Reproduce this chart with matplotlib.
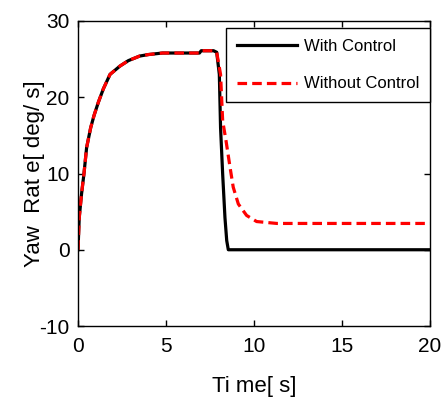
import matplotlib
matplotlib.use("Agg")
import matplotlib.pyplot as plt

plt.rcParams['font.family'] = ['Liberation Sans', 'DejaVu Sans']
plt.rcParams['axes.unicode_minus'] = False

# Shared rise / plateau
t_rise = [0, 0.02, 0.07, 0.2, 0.34, 0.49, 0.72, 0.91, 1.15, 1.44, 1.82, 2.39, 2.86, 3.5, 4.0, 4.8, 6.9, 7.0, 7.7, 7.88]
y_rise = [0, 1.2, 4.2, 7.3, 10.0, 13.4, 16.0, 17.6, 19.3, 21.1, 23.0, 24.1, 24.8, 25.4, 25.6, 25.8, 25.8, 26.1, 26.1, 25.9]

# With control: drop after ~8 s
t_with = t_rise + [8.03, 8.1, 8.22, 8.35, 8.45, 8.54, 20]
y_with = y_rise + [23.0, 16.0, 9.9, 4.2, 1.2, 0.0, 0.0]

# Without control: decay to ~3.5
t_without = t_rise + [8.1, 8.22, 8.41, 8.64, 8.82, 9.11, 9.58, 10.15, 11.3, 20]
y_without = y_rise + [23.0, 16.9, 14.3, 10.8, 8.2, 6.0, 4.5, 3.7, 3.45, 3.45]

fig = plt.figure(figsize=(4.43, 4.03), dpi=100)
ax = fig.add_axes([78/443, 1-326/403, (430-78)/443, (326-21)/403])

ax.plot(t_with, y_with, color='black', lw=2.3, label='With Control')
ax.plot(t_without, y_without, color='red', lw=2.3, ls=(0, (3, 1.6)), label='Without Control')

ax.set_xlim(0, 20)
ax.set_ylim(-10, 30)
ax.set_xticks([0, 5, 10, 15, 20])
ax.set_yticks([-10, 0, 10, 20, 30])
ax.tick_params(direction='in', labelsize=15, length=4, width=1, top=True, right=True)
ax.tick_params(axis='x', pad=8)
ax.tick_params(axis='y', pad=6)
for s in ax.spines.values():
    s.set_linewidth(1.0)

ax.set_xlabel('Ti me[ s]', fontsize=16)
ax.set_ylabel('Yaw  Rat e[ deg/ s]', fontsize=16)
ax.xaxis.set_label_coords(0.5, -0.165)
ax.yaxis.set_label_coords(-0.094, 0.5)

leg = ax.legend(loc='upper right', bbox_to_anchor=(1.0, 1 - 7/305), fontsize=12,
                frameon=True, fancybox=False, edgecolor='black', framealpha=1,
                borderaxespad=0, handlelength=3.6, handletextpad=0.4,
                borderpad=0.65, labelspacing=1.35)
leg.get_frame().set_linewidth(1.0)

fig.savefig('out.png', dpi=100)
